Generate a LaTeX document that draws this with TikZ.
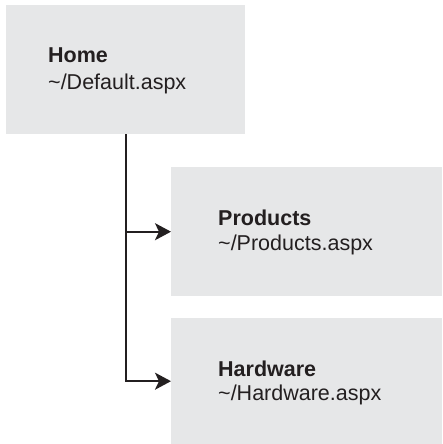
\documentclass[tikz,border=0pt]{standalone}
\usepackage{fontspec}
\setmainfont{Liberation Sans}
\usetikzlibrary{arrows.meta}
\definecolor{boxgray}{HTML}{E6E7E8}
\definecolor{ink}{HTML}{231F20}
\begin{document}
\begin{tikzpicture}[
  pagebox/.style={fill=boxgray,draw=none,inner sep=0pt,anchor=north west},
  pagelabel/.style={anchor=base west,inner sep=0pt,text=ink,font=\fontsize{21.5}{26}\selectfont},
  link/.style={draw=ink,line width=2pt,-{Stealth[length=16pt,width=17pt,inset=4pt]}}]
\useasboundingbox (0pt,0pt) rectangle (442pt,444pt);
\node[pagebox,minimum width=239pt,minimum height=129pt] (home) at (6pt,439pt) {};
\node[pagebox,minimum width=271pt,minimum height=129pt] (prod) at (171pt,277pt) {};
\node[pagebox,minimum width=271pt,minimum height=126pt] (hard) at (171pt,126pt) {};
\node[pagelabel] (hometitle) at (48pt,381pt) {\bfseries Home};
\node[pagelabel] (homeurl) at (48pt,354pt) {\string~/Default.aspx};
\node[pagelabel] (prodtitle) at (218pt,218pt) {\bfseries Products};
\node[pagelabel] (produrl) at (218pt,193pt) {\string~/Products.aspx};
\node[pagelabel] (hardtitle) at (218pt,67pt) {\bfseries Hardware};
\node[pagelabel] (hardurl) at (218pt,43pt) {\string~/Hardware.aspx};
\draw[link] (home.south) |- (prod.west);
\draw[link] (home.south) |- (hard.west);
\end{tikzpicture}
\end{document}
